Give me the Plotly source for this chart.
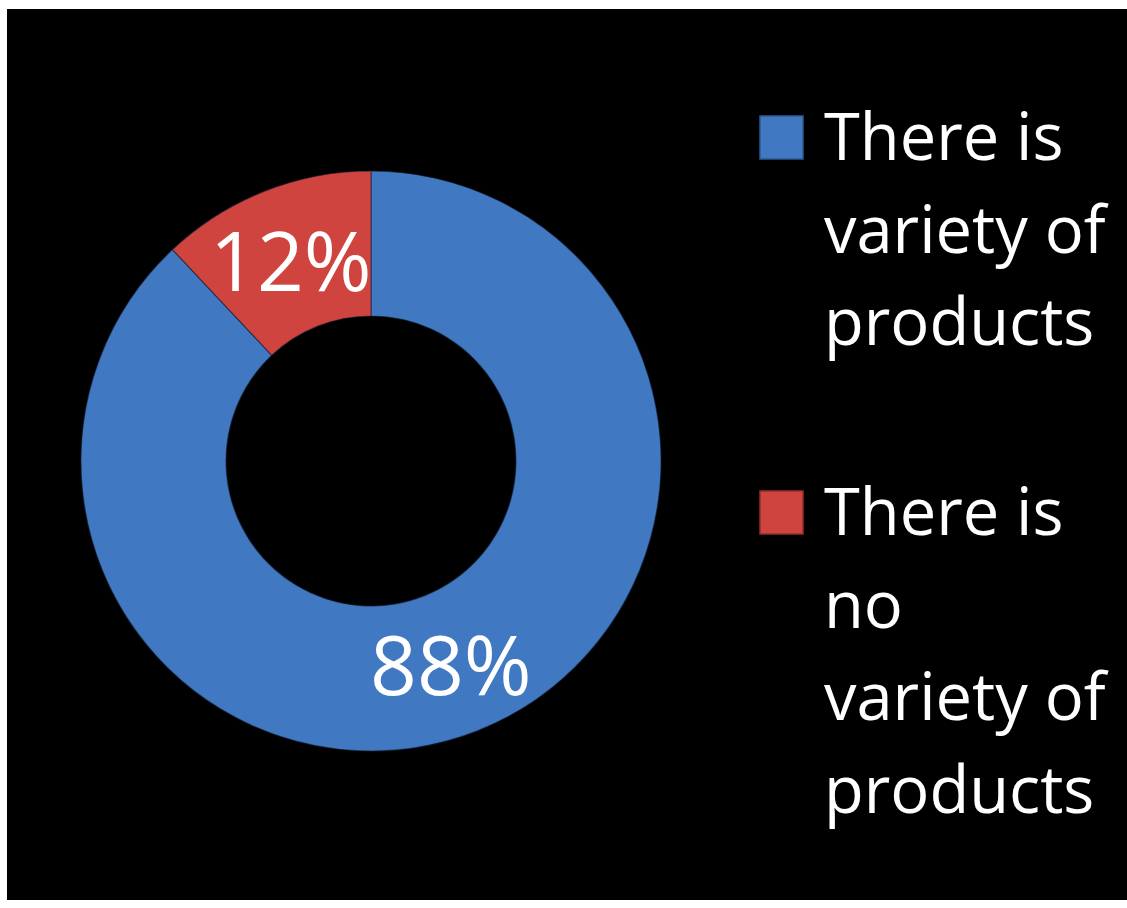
import math
import plotly.graph_objects as go

# Survey answers and their shares (percent)
categories = ["There is variety of products", "There is no variety of products"]
shares = [88, 12]
slice_colors = ["#4079C2", "#D0443F"]
edge_colors = ["#2C5A94", "#952C29"]

# Category names broken into the lines shown beside the ring
legend_lines = [
    ["There is", "variety of", "products"],
    ["There is", "no", "variety of", "products"],
]

W, H = 1127, 908
ML, MR, MT, MB = 7, 0, 9, 8
PW, PH = W - ML - MR, H - MT - MB


def px_x(x):
    return (x - ML) / PW


def px_y(y):
    return 1 - (y - MT) / PH


# Ring geometry in pixels
CX, CY, R_OUT = 371, 461, 290
HOLE = 0.5
FONT = "Open Sans, Noto Sans, Liberation Sans, sans-serif"

fig = go.Figure(
    go.Pie(
        labels=categories,
        values=shares,
        hole=HOLE,
        sort=False,
        direction="clockwise",
        rotation=0,
        marker=dict(colors=slice_colors, line=dict(color="rgba(20,30,50,0.55)", width=1.2)),
        textinfo="none",
        hoverinfo="label+percent",
        showlegend=False,
        domain=dict(
            x=[px_x(CX - R_OUT), px_x(CX + R_OUT)],
            y=[px_y(CY + R_OUT), px_y(CY - R_OUT)],
        ),
    )
)

# Percentage labels at the middle of each slice, halfway across the ring
annotations = []
total = sum(shares)
r_mid = R_OUT * (1 + HOLE) / 2
start = 0.0
for v in shares:
    frac = v / total
    mid = (start + frac / 2) * 2 * math.pi
    start += frac
    lx = CX + r_mid * math.sin(mid)
    ly = CY - r_mid * math.cos(mid)
    annotations.append(
        dict(
            x=px_x(lx), y=px_y(ly), xref="paper", yref="paper",
            text=f"{round(v / total * 100)}%", showarrow=False,
            xanchor="center", yanchor="middle",
            font=dict(family=FONT, size=82, color="white"),
        )
    )

# Legend drawn beside the ring: coloured square plus wrapped name
shapes = [
    dict(type="rect", xref="paper", yref="paper", x0=0, x1=1, y0=0, y1=1,
         fillcolor="black", line=dict(width=0), layer="below")
]
LINE_STEP = 92.7
first_baselines = [160, 535]
TEXT_X = 822
for i, lines in enumerate(legend_lines):
    base = first_baselines[i]
    sq_top = base - 44
    shapes.append(
        dict(type="rect", xref="paper", yref="paper",
             x0=px_x(760), x1=px_x(803), y0=px_y(sq_top + 43), y1=px_y(sq_top),
             fillcolor=slice_colors[i], line=dict(color=edge_colors[i], width=1.5))
    )
    for j, line in enumerate(lines):
        bl = base + j * LINE_STEP
        annotations.append(
            dict(
                x=px_x(TEXT_X), y=px_y(bl - 25), xref="paper", yref="paper",
                text=line, showarrow=False, xanchor="left", yanchor="middle",
                font=dict(family=FONT, size=65, color="white"),
            )
        )

fig.update_layout(
    width=W, height=H,
    margin=dict(l=ML, r=MR, t=MT, b=MB, pad=0),
    paper_bgcolor="white",
    plot_bgcolor="black",
    shapes=shapes,
    annotations=annotations,
)

fig.write_html("out.html")
